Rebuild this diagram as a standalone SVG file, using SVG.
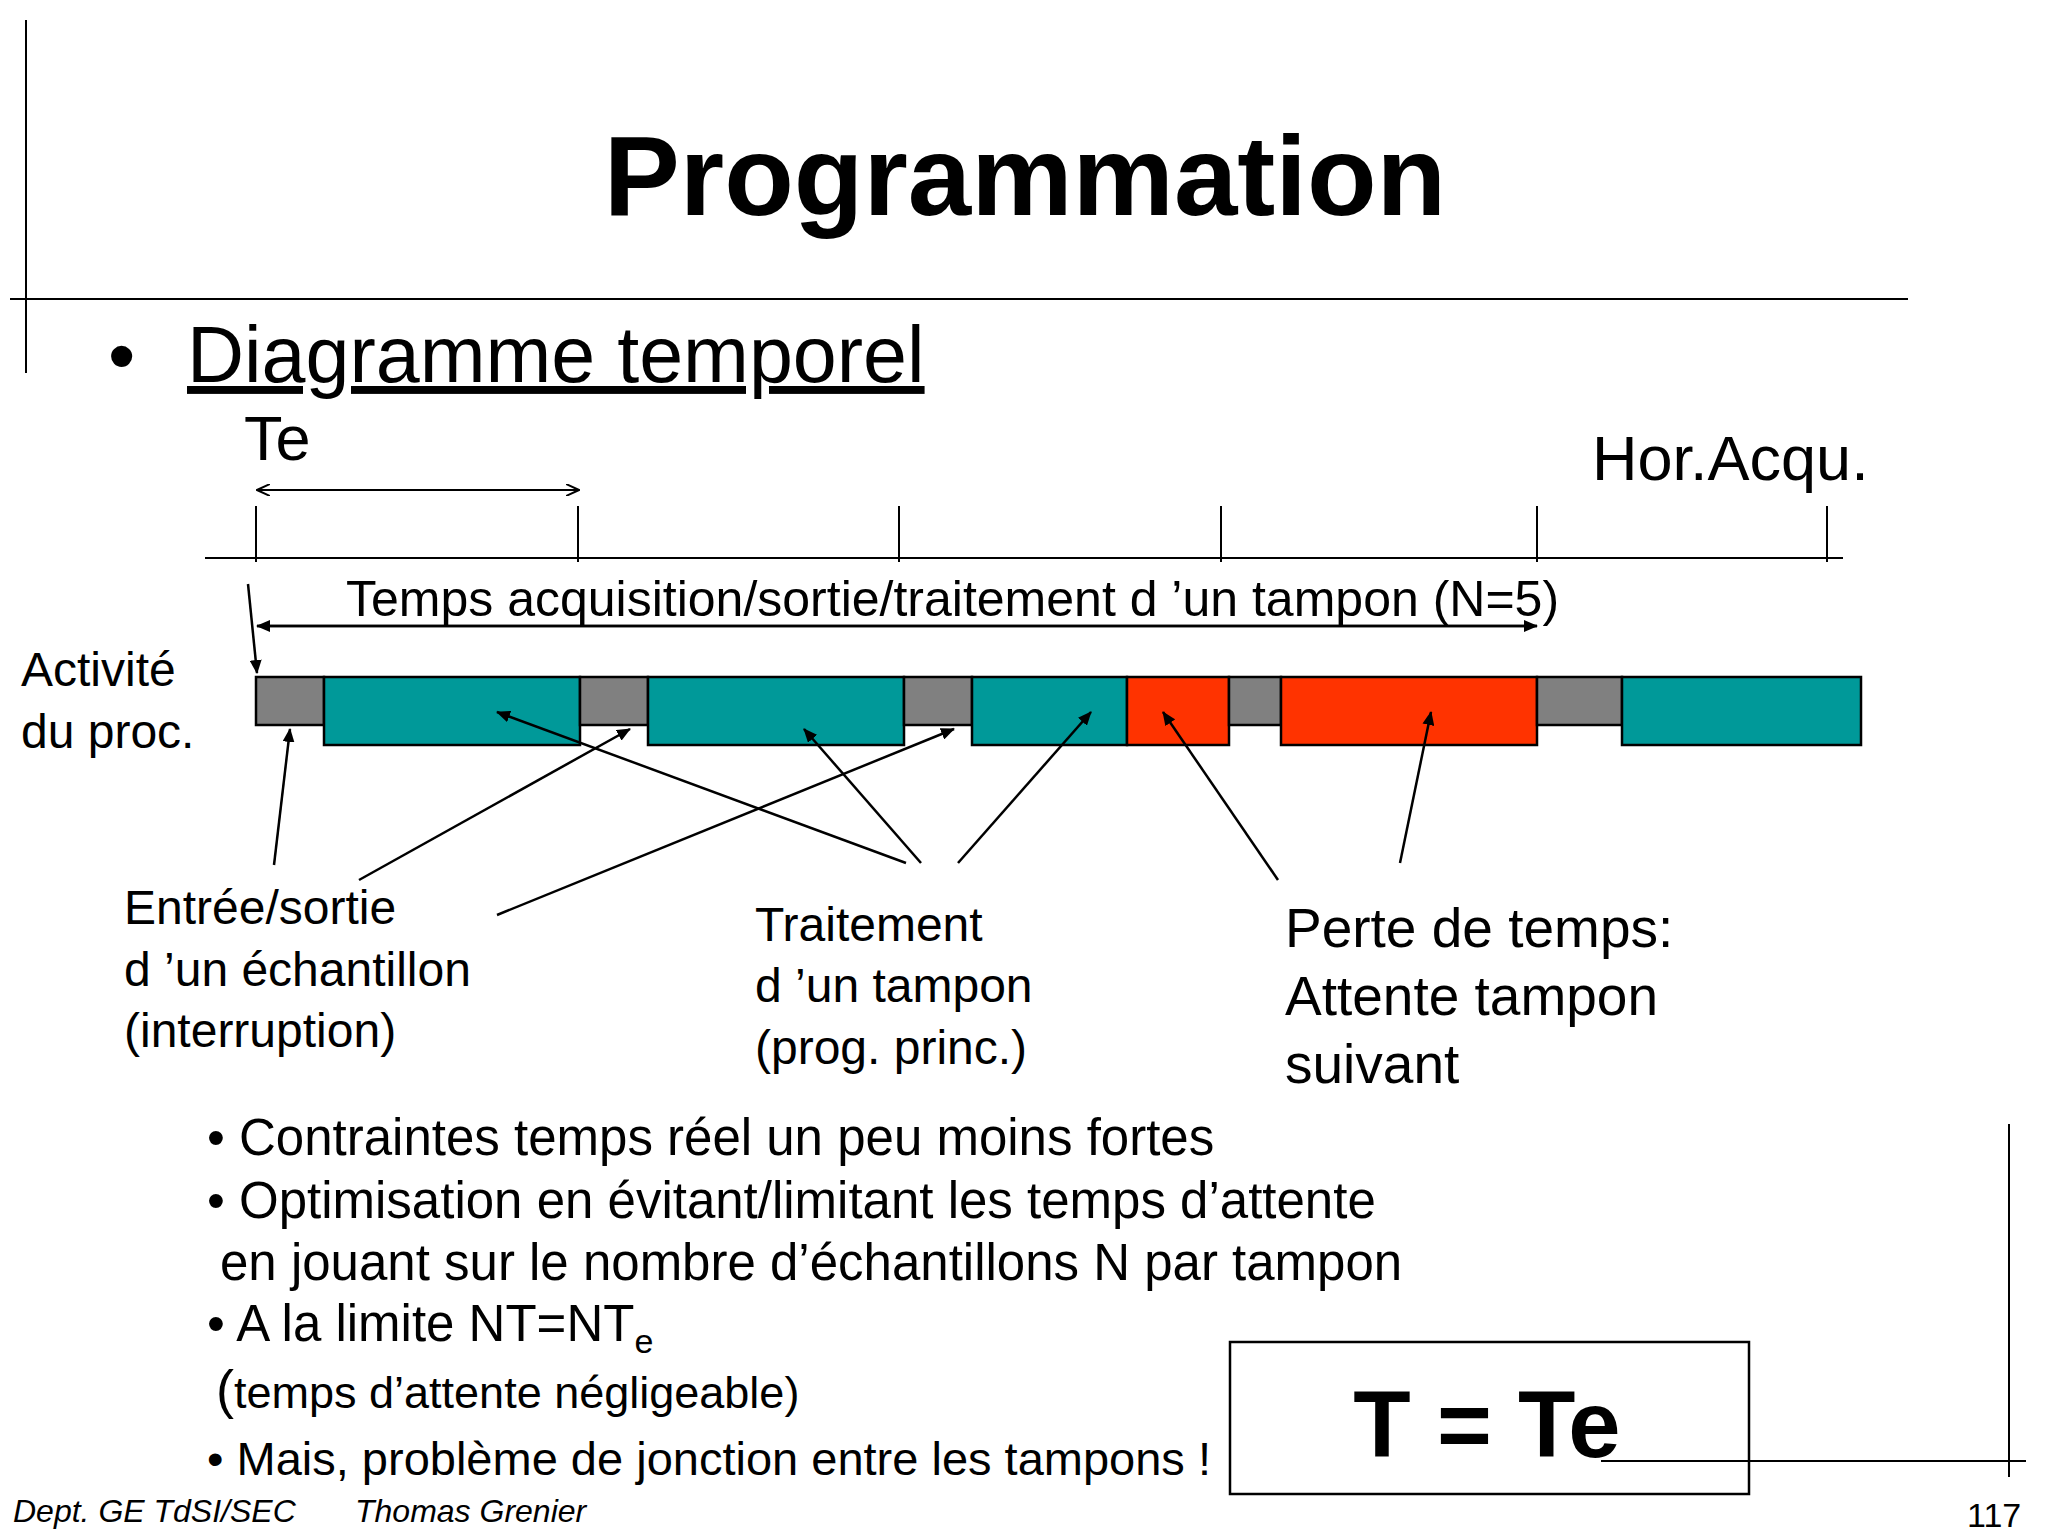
<svg xmlns="http://www.w3.org/2000/svg" width="2048" height="1536" viewBox="0 0 2048 1536">
<style>
text{font-family:"Liberation Sans",Arial,sans-serif;fill:#000}
.ln{stroke:#000;stroke-width:2;fill:none}
.ar{stroke:#000;stroke-width:2.5;fill:none;marker-end:url(#ah)}
.g{fill:#808080;stroke:#000;stroke-width:2.5}
.t{fill:#009999;stroke:#000;stroke-width:2.5}
.r{fill:#FF3300;stroke:#000;stroke-width:2.5}
.m{font-size:48px}
</style>
<defs>
<marker id="ah" markerWidth="14" markerHeight="12" refX="13" refY="6" orient="auto" markerUnits="userSpaceOnUse"><path d="M0,0 L14,6 L0,12 Z" fill="#000"/></marker>
<marker id="oa" markerWidth="14" markerHeight="12" refX="13" refY="6" orient="auto-start-reverse" markerUnits="userSpaceOnUse"><path d="M0,0 L13,6 L0,12" fill="none" stroke="#000" stroke-width="2"/></marker>
</defs>
<rect width="2048" height="1536" fill="#fff"/>
<g id="frame" class="ln">
<line x1="26" y1="20" x2="26" y2="373"/>
<line x1="10" y1="299" x2="1908" y2="299"/>
<line x1="2009" y1="1124" x2="2009" y2="1477"/>
<line x1="1601" y1="1461" x2="2026" y2="1461"/>
</g>
<text x="1025" y="215" text-anchor="middle" font-size="114" font-weight="bold">Programmation</text>
<text x="108" y="382" font-size="78">•</text>
<text x="187" y="382" font-size="79" text-decoration="underline">Diagramme temporel</text>
<text x="244" y="460" font-size="63">Te</text>
<text x="1592" y="480" font-size="63">Hor.Acqu.</text>
<g id="timeline" class="ln">
<line x1="205" y1="558" x2="1843" y2="558"/>
<line x1="256" y1="506" x2="256" y2="562"/>
<line x1="578" y1="506" x2="578" y2="562"/>
<line x1="899" y1="506" x2="899" y2="562"/>
<line x1="1221" y1="506" x2="1221" y2="562"/>
<line x1="1537" y1="506" x2="1537" y2="562"/>
<line x1="1827" y1="506" x2="1827" y2="562"/>
<line x1="257" y1="490" x2="579" y2="490" marker-start="url(#oa)" marker-end="url(#oa)"/>
</g>
<text x="346" y="616" font-size="50">Temps acquisition/sortie/traitement d ’un tampon (N=5)</text>
<text class="m" x="21" y="686">Activité</text>
<text class="m" x="21" y="748">du proc.</text>
<g id="bar">
<rect class="g" x="256" y="677" width="68" height="48"/>
<rect class="t" x="324" y="677" width="256" height="68"/>
<rect class="g" x="580" y="677" width="68" height="48"/>
<rect class="t" x="648" y="677" width="256" height="68"/>
<rect class="g" x="904" y="677" width="68" height="48"/>
<rect class="t" x="972" y="677" width="155" height="68"/>
<rect class="r" x="1127" y="677" width="102" height="68"/>
<rect class="g" x="1229" y="677" width="52" height="48"/>
<rect class="r" x="1281" y="677" width="256" height="68"/>
<rect class="g" x="1537" y="677" width="85" height="48"/>
<rect class="t" x="1622" y="677" width="239" height="68"/>
</g>
<g id="connectors">
<line class="ar" x1="1537" y1="626" x2="257" y2="626"/>
<line class="ar" x1="257" y1="626" x2="1537" y2="626"/>
<line class="ar" x1="248" y1="584" x2="257" y2="673"/>
<line class="ar" x1="274" y1="865" x2="290" y2="729"/>
<line class="ar" x1="359" y1="880" x2="630" y2="729"/>
<line class="ar" x1="497" y1="915" x2="954" y2="729"/>
<line class="ar" x1="906" y1="863" x2="497" y2="712"/>
<line class="ar" x1="921" y1="863" x2="804" y2="729"/>
<line class="ar" x1="958" y1="863" x2="1091" y2="712"/>
<line class="ar" x1="1278" y1="880" x2="1163" y2="712"/>
<line class="ar" x1="1400" y1="863" x2="1431" y2="712"/>
</g>
<g id="lbl1"><text class="m" x="124" y="924">Entrée/sortie</text><text class="m" x="124" y="986">d ’un échantillon</text><text class="m" x="124" y="1047">(interruption)</text></g>
<g id="lbl2"><text class="m" x="755" y="941">Traitement</text><text class="m" x="755" y="1002">d ’un tampon</text><text class="m" x="755" y="1064">(prog. princ.)</text></g>
<g id="lbl3"><text x="1285" y="947" font-size="55">Perte de temps:</text><text x="1285" y="1015" font-size="55">Attente tampon</text><text x="1285" y="1083" font-size="55">suivant</text></g>
<g>
<text x="207" y="1155" font-size="51">• Contraintes temps réel un peu moins fortes</text>
<text x="207" y="1218" font-size="51">• Optimisation en évitant/limitant les temps d’attente</text>
<text x="220" y="1280" font-size="51">en jouant sur le nombre d’échantillons N par tampon</text>
<text x="207" y="1341" font-size="51">• A la limite NT=NT<tspan font-size="34" dy="12">e</tspan></text>
<text x="216" y="1408" font-size="54">(<tspan font-size="45">temps d’attente négligeable)</tspan></text>
<text x="207" y="1475" font-size="47">• Mais, problème de jonction entre les tampons !</text>
</g>
<g id="box"><rect x="1230" y="1342" width="519" height="152" fill="#fff" stroke="#000" stroke-width="2.5"/>
<text x="1487" y="1457" text-anchor="middle" font-size="94" font-weight="bold">T = Te</text></g>
<line class="ln" x1="1601" y1="1461" x2="2026" y2="1461"/>
<text x="13" y="1522" font-size="32" font-style="italic">Dept. GE TdSI/SEC</text>
<text x="355" y="1522" font-size="32" font-style="italic">Thomas Grenier</text>
<text x="1967" y="1527" font-size="34">117</text>
</svg>
